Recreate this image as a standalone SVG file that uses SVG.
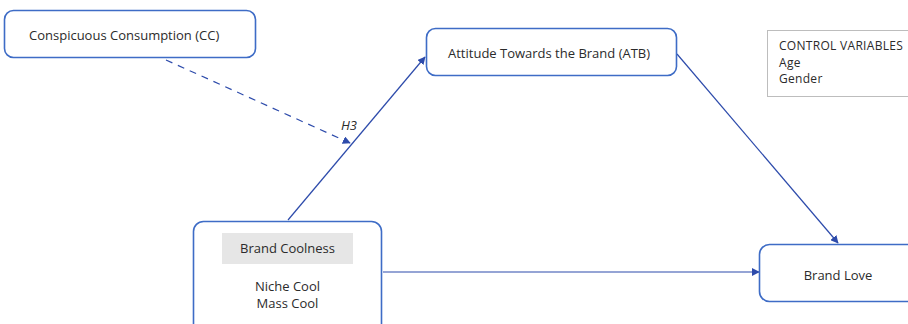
<svg xmlns="http://www.w3.org/2000/svg" width="908" height="324" viewBox="0 0 908 324">
<defs>
<style>
.box{fill:#fff;stroke:#3e6cc6;stroke-width:1.6}
.t{font-family:"Open Sans","Noto Sans",sans-serif;font-size:13px;fill:#2b2b2b}
.s{font-size:12px;letter-spacing:0.3px}
.c{text-anchor:middle}
.ln{stroke:#2d4bab;stroke-width:1.2;fill:none}
</style>
<marker id="ah" viewBox="0 0 10 10" refX="9" refY="5" markerWidth="8" markerHeight="8" markerUnits="userSpaceOnUse" orient="auto">
<path d="M0,0 L10,5 L0,10 z" fill="#2d4bab"/>
</marker>
</defs>
<g id="connectors">
<line class="ln" x1="166" y1="60" x2="350" y2="143" stroke-dasharray="7,6" marker-end="url(#ah)"/>
<line class="ln" x1="288" y1="220" x2="425" y2="57" marker-end="url(#ah)"/>
<line class="ln" x1="677" y1="54" x2="838" y2="243" marker-end="url(#ah)"/>
<line class="ln" x1="383" y1="272" x2="759" y2="272" marker-end="url(#ah)"/>
<text class="t" x="341" y="130" font-style="italic">H3</text>
</g>
<g id="cc">
<rect class="box" x="4.5" y="10.5" width="251" height="47" rx="9"/>
<text class="t" x="29" y="40">Conspicuous Consumption (CC)</text>
</g>
<g id="atb">
<rect class="box" x="426.5" y="28.5" width="250" height="47" rx="9"/>
<text class="t" x="448" y="58">Attitude Towards the Brand (ATB)</text>
</g>
<g id="control">
<rect x="767.5" y="30.5" width="145" height="66" fill="#fff" stroke="#bdbdbd" stroke-width="1"/>
<text class="t s" x="779" y="50">CONTROL VARIABLES</text>
<text class="t s" x="779" y="66.5">Age</text>
<text class="t s" x="779" y="83">Gender</text>
</g>
<g id="coolness">
<rect class="box" x="193.5" y="221.5" width="188" height="115" rx="10"/>
<rect x="222" y="233" width="131" height="31" fill="#e6e6e6"/>
<text class="t c" x="287.5" y="253">Brand Coolness</text>
<text class="t c" x="287.5" y="291">Niche Cool</text>
<text class="t c" x="287.5" y="308">Mass Cool</text>
</g>
<g id="love">
<rect class="box" x="759.5" y="244.5" width="160" height="57" rx="10"/>
<text class="t c" x="838" y="280">Brand Love</text>
</g>
</svg>
